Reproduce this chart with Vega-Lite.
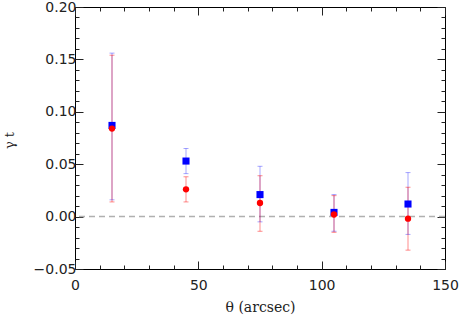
{
  "$schema": "https://vega.github.io/schema/vega-lite/v6.json",
  "width": 370,
  "height": 262,
  "autosize": "none",
  "padding": {"left": 75, "top": 7, "right": 19, "bottom": 49},
  "background": "white",
  "config": {
    "view": {"stroke": "black", "strokeWidth": 1},
    "axis": {
      "domain": false,
      "grid": false,
      "tickColor": "#222222",
      "tickWidth": 1,
      "labelFont": "DejaVu Sans",
      "labelFontSize": 14,
      "labelColor": "#222222",
      "titleColor": "#222222"
    }
  },
  "data": {
    "values": [
      {"theta": 15, "series": "blue", "gamma": 0.087, "lo": 0.016, "hi": 0.156},
      {"theta": 45, "series": "blue", "gamma": 0.053, "lo": 0.041, "hi": 0.065},
      {"theta": 75, "series": "blue", "gamma": 0.021, "lo": -0.005, "hi": 0.048},
      {"theta": 105, "series": "blue", "gamma": 0.004, "lo": -0.014, "hi": 0.021},
      {"theta": 135, "series": "blue", "gamma": 0.012, "lo": -0.017, "hi": 0.042},
      {"theta": 15, "series": "red", "gamma": 0.084, "lo": 0.014, "hi": 0.154},
      {"theta": 45, "series": "red", "gamma": 0.026, "lo": 0.014, "hi": 0.038},
      {"theta": 75, "series": "red", "gamma": 0.013, "lo": -0.014, "hi": 0.039},
      {"theta": 105, "series": "red", "gamma": 0.002, "lo": -0.015, "hi": 0.020},
      {"theta": 135, "series": "red", "gamma": -0.002, "lo": -0.032, "hi": 0.028}
    ]
  },
  "layer": [
    {
      "data": {"values": [{"ref": 0}]},
      "mark": {"type": "rule", "color": "#b0b0b0", "strokeDash": [6, 4], "strokeWidth": 1.5},
      "encoding": {
        "y": {"field": "ref", "type": "quantitative", "scale": {"domain": [-0.05, 0.2], "nice": false, "zero": false}, "axis": null}
      }
    },
    {
      "transform": [{"filter": "datum.series === 'blue'"}],
      "mark": {"type": "errorbar", "color": "#0000ff", "opacity": 0.35, "ticks": {"size": 5}},
      "encoding": {
        "x": {"field": "theta", "type": "quantitative", "scale": {"domain": [0, 150], "nice": false, "zero": false},
          "axis": {"orient": "bottom", "values": [0, 50, 100, 150], "tickSize": -8, "labelPadding": 17, "labelFlush": false,
            "title": "θ (arcsec)", "titleFont": "DejaVu Serif", "titleFontSize": 14, "titleFontWeight": "normal", "titleY": 42, "titleBaseline": "alphabetic"}},
        "y": {"field": "lo", "type": "quantitative", "scale": {"domain": [-0.05, 0.2], "nice": false, "zero": false},
          "axis": {"orient": "left", "values": [-0.05, 0, 0.05, 0.1, 0.15, 0.2], "format": ".2f", "tickSize": -8, "labelPadding": 7, "labelFlush": false,
            "title": "γ t", "titleFont": "DejaVu Serif", "titleFontSize": 13, "titleFontWeight": "normal", "titleX": -66, "titleY": 133, "titleAlign": "center", "titleBaseline": "middle"}},
        "y2": {"field": "hi"}
      }
    },
    {
      "transform": [{"filter": "datum.series === 'red'"}],
      "mark": {"type": "errorbar", "color": "#ff0000", "opacity": 0.45, "ticks": {"size": 5}},
      "encoding": {
        "x": {"field": "theta", "type": "quantitative", "scale": {"domain": [0, 150], "nice": false, "zero": false},
          "axis": {"orient": "bottom", "values": [10, 20, 30, 40, 60, 70, 80, 90, 110, 120, 130, 140], "tickSize": -4, "labels": false, "title": null}},
        "y": {"field": "lo", "type": "quantitative", "scale": {"domain": [-0.05, 0.2], "nice": false, "zero": false},
          "axis": {"orient": "left", "values": [-0.04, -0.03, -0.02, -0.01, 0.01, 0.02, 0.03, 0.04, 0.06, 0.07, 0.08, 0.09, 0.11, 0.12, 0.13, 0.14, 0.16, 0.17, 0.18, 0.19], "tickSize": -4, "labels": false, "title": null}},
        "y2": {"field": "hi"}
      }
    },
    {
      "transform": [{"filter": "datum.series === 'blue'"}],
      "mark": {"type": "point", "shape": "square", "filled": true, "color": "#0000ff", "opacity": 1, "size": 50},
      "encoding": {
        "x": {"field": "theta", "type": "quantitative", "scale": {"domain": [0, 150], "nice": false, "zero": false},
          "axis": {"orient": "top", "values": [0, 50, 100, 150], "tickSize": -8, "labels": false, "title": null}},
        "y": {"field": "gamma", "type": "quantitative", "scale": {"domain": [-0.05, 0.2], "nice": false, "zero": false},
          "axis": {"orient": "right", "values": [-0.05, 0, 0.05, 0.1, 0.15, 0.2], "tickSize": -8, "labels": false, "title": null}}
      }
    },
    {
      "transform": [{"filter": "datum.series === 'red'"}],
      "mark": {"type": "point", "shape": "circle", "filled": true, "color": "#ff0000", "opacity": 1, "size": 40},
      "encoding": {
        "x": {"field": "theta", "type": "quantitative", "scale": {"domain": [0, 150], "nice": false, "zero": false},
          "axis": {"orient": "top", "values": [10, 20, 30, 40, 60, 70, 80, 90, 110, 120, 130, 140], "tickSize": -4, "labels": false, "title": null}},
        "y": {"field": "gamma", "type": "quantitative", "scale": {"domain": [-0.05, 0.2], "nice": false, "zero": false},
          "axis": {"orient": "right", "values": [-0.04, -0.03, -0.02, -0.01, 0.01, 0.02, 0.03, 0.04, 0.06, 0.07, 0.08, 0.09, 0.11, 0.12, 0.13, 0.14, 0.16, 0.17, 0.18, 0.19], "tickSize": -4, "labels": false, "title": null}}
      }
    }
  ],
  "resolve": {"axis": {"x": "independent", "y": "independent"}}
}
